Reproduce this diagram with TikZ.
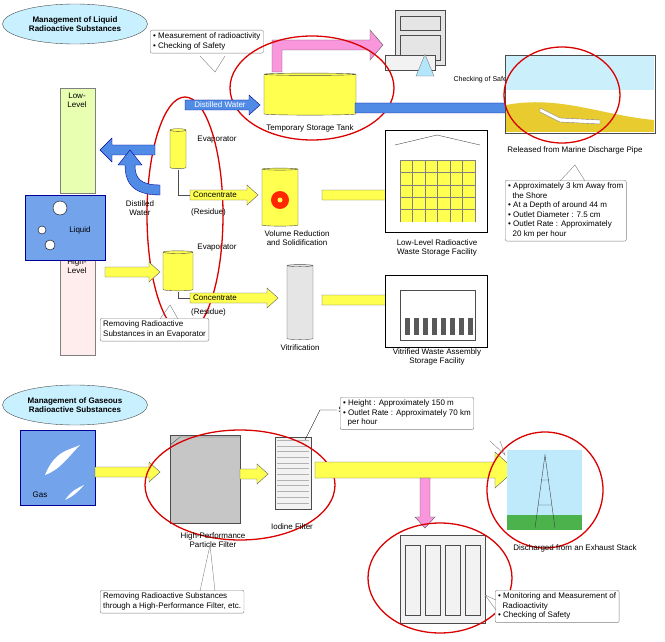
\documentclass[tikz,border=0pt]{standalone}
\usepackage{fontspec}
\setmainfont{Liberation Sans}
\usetikzlibrary{shapes.geometric}
\newcommand\harrow[4]{\path[#4] (#1,#3-5) -- (#2-11,#3-5) -- (#2-11,#3-10) -- (#2,#3) -- (#2-11,#3+10) -- (#2-11,#3+5) -- (#1,#3+5) -- cycle;}
\newcommand\varrow[4]{\path[#4] (#3-5,#1) -- (#3-5,#2-11) -- (#3-10,#2-11) -- (#3,#2) -- (#3+10,#2-11) -- (#3+5,#2-11) -- (#3+5,#1) -- cycle;}
\definecolor{yel}{RGB}{255,255,80}
\definecolor{blu}{RGB}{80,140,230}
\definecolor{pnk}{RGB}{250,150,220}
\definecolor{ttl}{RGB}{200,240,255}
\tikzset{
 yarr/.style={fill=yel,draw=gray!70!black,thin},
 barr/.style={fill=blu,draw=blue!60!black,thin},
 parr/.style={fill=pnk,draw=gray!70!black,thin},
 lbl/.style={font=\fontsize{8}{9}\selectfont,align=center,inner sep=1pt},
 cbox/.style={draw=gray,fill=white,rounded corners=2pt,font=\fontsize{8}{9.5}\selectfont,align=left,inner sep=3pt,anchor=north west},
 ttlell/.style={ellipse,draw=gray!60!black,fill=ttl,font=\bfseries\fontsize{8}{9.5}\selectfont,align=center,inner sep=1pt},
 redell/.style={draw=red!85!black,line width=1.3pt},
 machine/.style={draw=gray!60!black,fill=gray!20},
}
\begin{document}
\begin{tikzpicture}[x=1pt,y=-1pt]
\useasboundingbox (0,0) rectangle (665,642);
% ---------- Liquid ----------
\node[ttlell,minimum width=145,minimum height=40] (t1) at (75,24) {Management of Liquid\\Radioactive Substances};
\node[cbox] (c1) at (150,30) {• Measurement of radioactivity\\• Checking of Safety};
\draw[gray] (200,56) -- (215,72) -- (225,56);
\path[parr] (272,72) -- (272,40) -- (370,40) -- (370,30) -- (383,45) -- (370,60) -- (370,50) -- (282,50) -- (282,72) -- cycle;
\node[machine,minimum width=50,minimum height=55,anchor=north west] (m1) at (395,10) {};
\draw[gray!60!black] (400,16) rectangle (440,30) (400,35) rectangle (440,60);
\node[draw=gray!60!black,fill=gray!10,minimum width=50,minimum height=15,anchor=north west] (m1b) at (385,55) {};
\node[isosceles triangle,shape border rotate=90,fill=cyan!30,draw=gray,minimum size=18,inner sep=0] (fl) at (425,70) {};
\node[lbl,font=\fontsize{7}{8}\selectfont] (cs) at (483,80) {Checking of Safety};
\node[cylinder,shape border rotate=90,aspect=0.35,fill=yel,draw=gray!60!black,minimum width=92,minimum height=42] (tank) at (310,95) {};
\node[lbl] (tankl) at (310,128) {Temporary Storage Tank};
\draw[redell] (312,88) ellipse (82 and 52);
\harrow{355}{525}{108}{barr}
\node[draw=gray!60!black,fill=white,minimum width=150,minimum height=78,anchor=north west] (sea) at (505,55) {};
\fill[cyan!20] (506,56) rectangle (654,90);
\fill[yellow!60!brown] (506,105) .. controls (560,95) and (600,115) .. (654,120) -- (654,132) -- (506,132) -- cycle;
\draw[gray,fill=white] (540,108) -- (560,118) -- (600,120) -- (600,124) -- (560,122) -- (540,112) -- cycle;
\draw[redell] (562,95) ellipse (58 and 48);
\node[lbl,fill=white] (seal) at (575,150) {Released from Marine Discharge Pipe};
\node[cbox] (c2) at (505,180) {• Approximately 3 km Away from\\\ \ the Shore\\• At a Depth of around 44 m\\• Outlet Diameter : 7.5 cm\\• Outlet Rate : Approximately\\\ \ 20 km per hour};
\draw[gray] (560,181) -- (575,165) -- (585,181);
\node[draw=gray,fill=green!30!yellow!30,minimum width=35,minimum height=105,anchor=north west] (low) at (60,88) {};
\node[lbl,anchor=north] at (77,92) {Low-\\Level};
\node[draw=gray,fill=pink!30,minimum width=35,minimum height=105,anchor=north west] (high) at (60,250) {};
\node[lbl,anchor=north] at (77,258) {High-\\Level};
\node[draw=blue!60!black,fill=blu!80,minimum width=80,minimum height=65,anchor=north west] (liq) at (25,195) {};
\node[lbl] (liql) at (80,230) {Liquid};
\draw[fill=white] (60,208) circle (7) (42,230) circle (4) (50,245) circle (5);
\node[cylinder,shape border rotate=90,aspect=0.4,fill=yel,draw=gray!60!black,minimum width=16,minimum height=40] (ev1) at (178,150) {};
\node[lbl] (ev1l) at (217,140) {Evaporator};
\node[cylinder,shape border rotate=90,aspect=0.4,fill=yel,draw=gray!60!black,minimum width=30,minimum height=40] (ev2) at (178,272) {};
\node[lbl] (ev2l) at (217,248) {Evaporator};
\draw[gray!60!black,thick] (178,170) -- (178,195) -- (190,195) (178,292) -- (178,298) -- (190,298);
\draw[redell] (185,215) ellipse (38 and 118);
\harrow{185}{260}{105}{barr}
\node[lbl,text=white] at (220,105) {Distilled Water};
\path[barr] (155,145) -- (112,145) -- (112,138) -- (100,150) -- (112,162) -- (112,155) -- (155,155) -- cycle;
\path[barr] (160,195) .. controls (130,195) and (125,180) .. (125,165) -- (118,165) -- (130,150) -- (142,165) -- (135,165) .. controls (135,178) and (140,185) .. (160,185) -- cycle;
\node[lbl] (dw) at (140,208) {Distilled\\Water};
\harrow{190}{258}{195}{yarr}
\node[lbl,anchor=west] at (192,195) {Concentrate};
\node[lbl,anchor=west] at (190,212) {(Residue)};
\node[cylinder,shape border rotate=90,aspect=0.3,fill=yel,draw=gray!60!black,minimum width=36,minimum height=58] (drum) at (280,198) {};
\fill[red!70!orange] (280,200) circle (9);\fill[yel] (280,200) circle (2.5);
\node[lbl] (druml) at (297,238) {Volume Reduction\\and Solidification};
\harrow{322}{402}{195}{yarr}
\node[draw,line width=1.2pt,fill=white,minimum width=102,minimum height=102,anchor=north west] (llf) at (385,130) {};
\fill[yel] (400,160) rectangle (475,222);
\foreach \i in {0,...,4}{\draw[gray] (400,160+12.4*\i) -- (475,160+12.4*\i);}
\foreach \j in {0,...,6}{\draw[gray] (400+12.5*\j,160) -- (400+12.5*\j,222);}
\draw[gray!60!black] (395,145) -- (437,135) -- (480,145);
\node[lbl] (llfl) at (437,248) {Low-Level Radioactive\\Waste Storage Facility};
\harrow{105}{160}{272}{yarr}
\harrow{190}{278}{298}{yarr}
\node[lbl,anchor=west] at (192,298) {Concentrate};
\node[lbl,anchor=west] at (190,312) {(Residue)};
\node[cylinder,shape border rotate=90,aspect=0.3,fill=gray!20,draw=gray!60!black,minimum width=26,minimum height=75] (vit) at (300,303) {};
\node[lbl] (vitl) at (300,348) {Vitrification};
\harrow{322}{397}{300}{yarr}
\node[draw,line width=1.2pt,fill=white,minimum width=102,minimum height=72,anchor=north west] (vf) at (385,275) {};
\draw[gray!60!black] (400,290) rectangle (475,340);
\foreach \j in {0,...,7}{\fill[gray!70!black] (405+9*\j,318) rectangle (410+9*\j,335);}
\node[lbl] (vfl) at (437,357) {Vitrified Waste Assembly\\Storage Facility};
\node[cbox] (c3) at (100,318) {Removing Radioactive\\Substances in an Evaporator};
\draw[gray] (160,319) -- (170,305) -- (178,319);
% ---------- Gas ----------
\node[ttlell,minimum width=145,minimum height=40] (t2) at (75,405) {Management of Gaseous\\Radioactive Substances};
\node[draw=blue!60!black,fill=blu!80,minimum width=75,minimum height=75,anchor=north west] (gas) at (20,430) {};
\fill[white] (45,475) .. controls (55,450) and (70,450) .. (80,445) .. controls (70,455) and (60,470) .. (45,475);
\fill[white] (65,500) .. controls (72,490) and (78,488) .. (84,485) .. controls (78,492) and (72,497) .. (65,500);
\node[lbl] (gasl) at (40,495) {Gas};
\harrow{95}{160}{472}{yarr}
\node[machine,fill=gray!45,minimum width=70,minimum height=88,anchor=north west] (hpf) at (170,435) {};
\draw[gray!60!black] (170,445) -- (180,437) -- (240,437);
\harrow{240}{268}{474}{yarr}
\node[draw=gray!60!black,fill=gray!10,minimum width=36,minimum height=72,anchor=north west] (iod) at (275,437) {};
\foreach \i in {0,...,11}{\draw[gray!60] (277,440+5.7*\i) -- (309,440+5.7*\i);}
\draw[redell] (240,485) ellipse (95 and 55);
\node[lbl] (sba) at (380,410) {Silver-based Adsorbent};
\draw (305,440) -- (320,410) -- (sba.west);
\node[lbl] (hpfl) at (213,540) {High-Performance\\Particle Filter};
\node[lbl] (iodl) at (292,527) {Iodine Filter};
\path[yarr] (315,462) -- (495,462) -- (495,452) -- (515,470) -- (495,488) -- (495,478) -- (315,478) -- cycle;
\varrow{478}{528}{425}{parr}
\fill[cyan!25] (507,450) rectangle (582,530);
\fill[green!40!gray] (507,515) rectangle (582,530);
\draw[gray!50!black] (535,528) -- (545,455) -- (555,528) (538,505) -- (552,505) (541,480) -- (549,480);
\draw[redell] (545,490) circle (58);
\node[lbl] (towl) at (575,548) {Discharged from an Exhaust Stack};
\node[cbox] (c4) at (340,397) {• Height : Approximately 150 m\\• Outlet Rate : Approximately 70 km\\\ \ per hour};
\draw[gray] (490,441) -- (505,455) -- (500,441);
\node[machine,fill=gray!10,minimum width=85,minimum height=88,anchor=north west] (mon) at (400,535) {};
\foreach \j in {0,...,3}{\draw[gray!60!black] (405+20*\j,545) rectangle (420+20*\j,615);}
\draw[redell] (440,578) ellipse (72 and 55);
\node[cbox] (c5) at (495,590) {• Monitoring and Measurement of\\\ \ Radioactivity\\• Checking of Safety};
\draw[gray] (496,600) -- (485,595) -- (496,610);
\node[cbox] (c6) at (100,590) {Removing Radioactive Substances\\through a High-Performance Filter, etc.};
\draw[gray] (200,591) -- (210,545) -- (215,591);
\end{tikzpicture}
\end{document}
